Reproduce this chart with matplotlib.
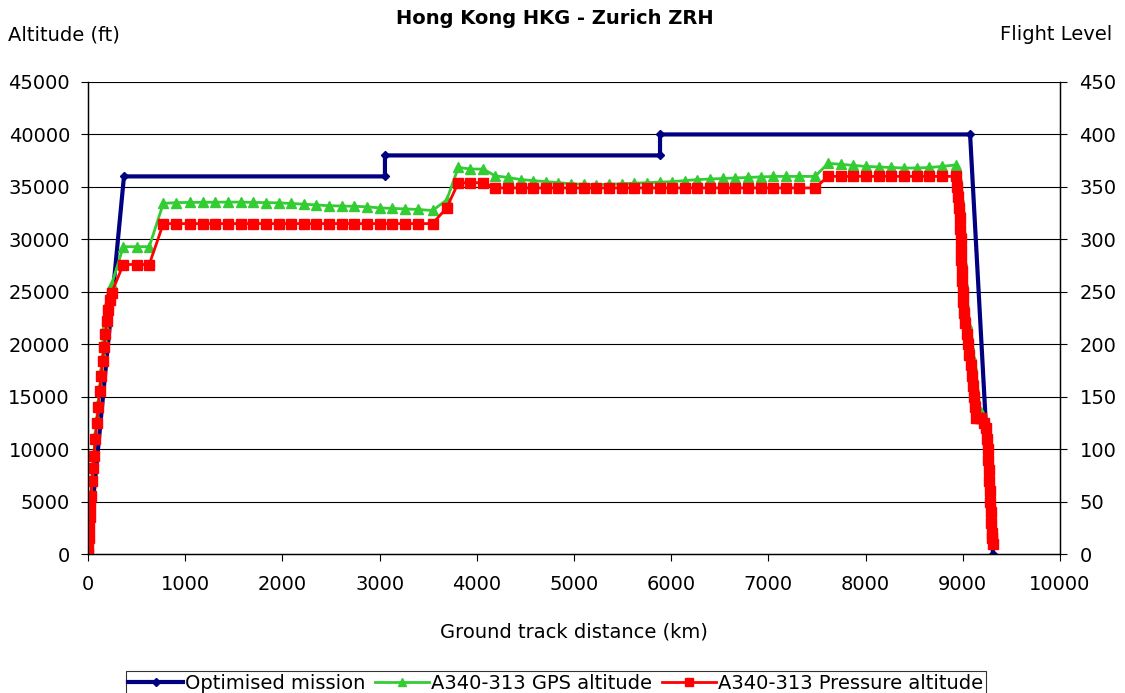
import matplotlib
matplotlib.use("Agg")
import matplotlib.pyplot as plt

plt.rcParams['font.family'] = ['DejaVu Sans']

# ---------------- data ----------------
mission_km = [0, 370, 3055, 3055, 5885, 5885, 9075, 9310]
mission_ft = [0, 36000, 36000, 38000, 38000, 40000, 40000, 0]

track_km = [
    0, 5, 10, 15, 20, 25, 30, 40, 50, 60, 75, 90, 105, 120, 135, 150, 165, 180, 195, 210, 225, 243,
    363, 500, 630,
    775, 910, 1045, 1180, 1310, 1440, 1570, 1700, 1830, 1960, 2090, 2220, 2350, 2480, 2610, 2740,
    2870, 3000, 3130, 3260, 3390, 3545,
    3690, 3810, 3935, 4065,
    4190, 4320, 4450, 4580, 4710, 4840, 4970, 5100, 5230, 5360, 5490, 5620, 5750, 5880, 6010, 6140,
    6270, 6400, 6530, 6660, 6790, 6920, 7050, 7180, 7310, 7480,
    7615, 7745, 7875, 8005, 8135, 8265, 8395, 8525, 8655, 8785, 8930,
    8945, 8955, 8962, 8968, 8973, 8977, 8981, 8985, 8989, 8993, 8998, 9005, 9015, 9025, 9040, 9055,
    9065, 9080, 9095, 9105, 9115, 9128, 9140, 9165, 9190, 9215, 9235, 9245, 9255, 9262, 9268, 9273,
    9278, 9283, 9288, 9293, 9298, 9304, 9310,
]

pressure_ft = [
    0, 700, 1500, 2500, 3500, 4500, 5500, 7000, 8200, 9300, 11000, 12500, 14000, 15500, 17000, 18400,
    19700, 21000, 22200, 23300, 24200, 24900,
    27600, 27600, 27600,
    31500, 31500, 31500, 31500, 31500, 31500, 31500, 31500, 31500, 31500, 31500, 31500, 31500, 31500,
    31500, 31500, 31500, 31500, 31500, 31500, 31500, 31500,
    33000, 35400, 35400, 35400,
    34900, 34900, 34900, 34900, 34900, 34900, 34900, 34900, 34900, 34900, 34900, 34900, 34900, 34900,
    34900, 34900, 34900, 34900, 34900, 34900, 34900, 34900, 34900, 34900, 34900, 34900,
    36000, 36000, 36000, 36000, 36000, 36000, 36000, 36000, 36000, 36000, 36000,
    35000, 34000, 33000, 32000, 31000, 30000, 29000, 28000, 27000, 26000, 25000, 24000, 23000, 22000,
    21000, 20000, 19000, 18000, 17000, 16000, 15000, 14000, 13000, 13000, 13000, 12500, 12000, 11000,
    10000, 9000, 8000, 7000, 6000, 5000, 4000, 3000, 2000, 1500, 1000,
]

gps_ft = [
    0, 800, 1700, 2700, 3700, 4700, 5700, 7200, 8400, 9600, 11300, 12900, 14400, 15900, 17400, 18900,
    20300, 21600, 22800, 24000, 25000, 25700,
    29300, 29300, 29300,
    33430, 33500, 33520, 33530, 33540, 33550, 33550, 33520, 33500, 33480, 33420, 33350, 33280, 33200,
    33180, 33150, 33100, 33000, 32950, 32900, 32850, 32750,
    33750, 36860, 36700, 36700,
    36050, 35900, 35700, 35600, 35500, 35400, 35300, 35250, 35200, 35250, 35300, 35350, 35400, 35450,
    35500, 35600, 35700, 35750, 35800, 35850, 35900, 35950, 36000, 36000, 36000, 36000,
    37250, 37150, 37050, 36950, 36900, 36850, 36800, 36800, 36850, 36950, 37100,
    36000, 35000, 34000, 33000, 32000, 31000, 30000, 29000, 28000, 27000, 26000, 25000, 24000, 23000,
    22000, 21000, 20000, 19000, 18000, 17000, 16000, 15000, 14000, 13600, 13500, 13000, 12500, 11500,
    10500, 9500, 8500, 7500, 6500, 5500, 4500, 3500, 2500, 2000, 1500,
]

title = "Hong Kong HKG - Zurich ZRH"
left_label = "Altitude (ft)"
right_label = "Flight Level"
x_label = "Ground track distance (km)"
series_names = ["Optimised mission", "A340-313 GPS altitude", "A340-313 Pressure altitude"]

x_ticks = list(range(0, 10001, 1000))
y_ticks = list(range(0, 45001, 5000))
fl_ticks = list(range(0, 451, 50))

# ---------------- plot ----------------
W, H = 1125, 693
fig = plt.figure(figsize=(W / 100, H / 100), dpi=100)
ax = fig.add_axes([88 / W, 1 - 554 / H, (1060 - 88) / W, (554 - 82) / H])

fs = 14
for y in y_ticks[1:]:
    ax.axhline(y, color='black', lw=0.8, zorder=0)

l1, = ax.plot(mission_km, mission_ft, color='#000080', lw=3.0, marker='D', ms=4.5,
              zorder=2, label=series_names[0])
l2, = ax.plot(track_km, gps_ft, color='#33cc33', lw=2.0, marker='^', ms=7,
              zorder=3, label=series_names[1])
l3, = ax.plot(track_km, pressure_ft, color='#ff0000', lw=2.0, marker='s', ms=6.5,
              zorder=4, label=series_names[2])

ax.set_xlim(0, 10000)
ax.set_ylim(0, 45000)
ax.set_xticks(x_ticks)
ax.set_yticks(y_ticks)
ax.tick_params(axis='both', labelsize=fs, direction='out', length=5, color='black')
ax.tick_params(axis='x', pad=10)
ax.tick_params(axis='y', pad=8)
ax.spines['top'].set_visible(False)
for s in ['left', 'bottom', 'right']:
    ax.spines[s].set_color('black')
    ax.spines[s].set_linewidth(1.0)

ax2 = ax.twinx()
ax2.set_ylim(0, 450)
ax2.set_yticks(fl_ticks)
ax2.tick_params(axis='y', labelsize=fs, direction='out', length=5, pad=9)
ax2.spines['top'].set_visible(False)

ax.set_xlabel(x_label, fontsize=fs, labelpad=21)

fig.text(555 / W, 1 - 18 / H, title, ha='center', va='center', fontsize=fs, fontweight='bold')
fig.text(8 / W, 1 - 35 / H, left_label, ha='left', va='center', fontsize=fs)
fig.text(1112 / W, 1 - 35 / H, right_label, ha='right', va='center', fontsize=fs)

leg = fig.legend(handles=[l1, l2, l3], loc='upper center', bbox_to_anchor=(556 / W, 1 - 671 / H),
                 ncol=3, fontsize=fs, frameon=True, fancybox=False, edgecolor='black',
                 handlelength=2.8, handletextpad=0.1, columnspacing=0.5, borderpad=0.15,
                 borderaxespad=0, markerscale=0.8)
leg.get_frame().set_linewidth(0.8)

fig.savefig("out.png", dpi=100)
